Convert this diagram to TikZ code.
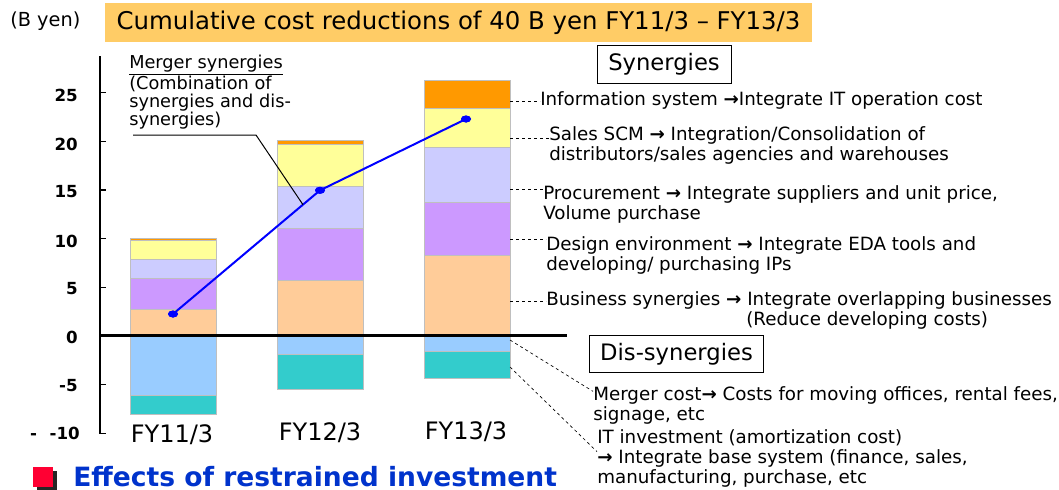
\documentclass[tikz,border=0pt]{standalone}
\usepackage{fontspec}
\setmainfont{DejaVu Sans}
\usetikzlibrary{calc,shapes.geometric}
\definecolor{cOrange}{HTML}{FF9900}
\definecolor{cYellow}{HTML}{FFFF99}
\definecolor{cLav}{HTML}{CCCCFF}
\definecolor{cPurple}{HTML}{CC99FF}
\definecolor{cPeach}{HTML}{FFCC99}
\definecolor{cSky}{HTML}{99CCFF}
\definecolor{cTeal}{HTML}{33CCCC}
\definecolor{titleor}{HTML}{FFCC66}
\definecolor{effblue}{HTML}{0033CC}
\definecolor{effred}{HTML}{FF0033}
\newcommand{\rarr}{{\bfseries →}}
\begin{document}
\begin{tikzpicture}[x=0.75pt,y=-0.75pt,
  seg/.style={draw=black!25, line width=0.5pt},
  lbl/.style={inner sep=0pt, align=left, font=\fontsize{13.7}{15}\selectfont},
  ticklbl/.style={inner sep=0pt, anchor=east, font=\bfseries\fontsize{12.5}{14}\selectfont},
  leader/.style={dash pattern=on 2.25pt off 2.25pt, line width=0.6pt},
  catbox/.style={draw, line width=0.75pt, inner sep=0pt, font=\fontsize{17}{19}\selectfont},
  fylbl/.style={inner sep=0pt, font=\fontsize{18}{20}\selectfont},
  dot/.style={ellipse, fill=blue, inner sep=0pt, minimum width=7.5pt, minimum height=5.25pt}
]
\useasboundingbox (0,0) rectangle (1059,489);

% title
\node[fill=titleor, inner sep=0pt, minimum width=530pt, minimum height=29.25pt,
      font=\fontsize{18.3}{20}\selectfont] (title) at (458.5,22.5)
      {Cumulative cost reductions of 40 B yen FY11/3 -- FY13/3};
\node[anchor=west, inner sep=0pt, font=\fontsize{14.5}{16}\selectfont] (unit) at (10,21) {(B yen)};

% axis
\draw[line width=1pt] (100,56) -- (100,433.4) -- (106,433.4);
\foreach \v/\yy in {25/92.5,20/141.2,15/190,10/238.6,5/287.3,0/336,-5/384.7}{
  \draw[line width=0.8pt] (100,\yy) -- (106,\yy);
}
\node[ticklbl] (t25) at (78,95) {25};
\node[ticklbl] (t20) at (78,144) {20};
\node[ticklbl] (t15) at (78,192) {15};
\node[ticklbl] (t10) at (78,241) {10};
\node[ticklbl] (t5) at (78,289) {5};
\node[ticklbl] (t0) at (78,337) {0};
\node[ticklbl] (tm5) at (78,386) {-5};
\node[ticklbl] (tm10) at (80,433) {-\hspace{0.75em}-10};

% bars FY11/3
\draw[seg,fill=cOrange] (130,238) rectangle (216,240);
\draw[seg,fill=cYellow] (130,240) rectangle (216,259);
\draw[seg,fill=cLav]    (130,259) rectangle (216,278);
\draw[seg,fill=cPurple] (130,278) rectangle (216,309);
\draw[seg,fill=cPeach]  (130,309) rectangle (216,336);
\draw[seg,fill=cSky]    (130,336) rectangle (216,395);
\draw[seg,fill=cTeal]   (130,395) rectangle (216,414.5);
% bars FY12/3
\draw[seg,fill=cOrange] (277,140.5) rectangle (363,144.5);
\draw[seg,fill=cYellow] (277,144.5) rectangle (363,186.5);
\draw[seg,fill=cLav]    (277,186.5) rectangle (363,228.5);
\draw[seg,fill=cPurple] (277,228.5) rectangle (363,280.5);
\draw[seg,fill=cPeach]  (277,280.5) rectangle (363,336);
\draw[seg,fill=cSky]    (277,336) rectangle (363,354.5);
\draw[seg,fill=cTeal]   (277,354.5) rectangle (363,389);
% bars FY13/3
\draw[seg,fill=cOrange] (424,80) rectangle (510,108);
\draw[seg,fill=cYellow] (424,108) rectangle (510,147);
\draw[seg,fill=cLav]    (424,147) rectangle (510,202.5);
\draw[seg,fill=cPurple] (424,202.5) rectangle (510,255);
\draw[seg,fill=cPeach]  (424,255) rectangle (510,336);
\draw[seg,fill=cSky]    (424,336) rectangle (510,351.5);
\draw[seg,fill=cTeal]   (424,351.5) rectangle (510,378);

% zero line
\draw[line width=2.2pt] (101,335.5) -- (567,335.5);

% FY labels
\node[fylbl] (fy11) at (172,435) {FY11/3};
\node[fylbl] (fy12) at (320,433) {FY12/3};
\node[fylbl] (fy13) at (466,432) {FY13/3};

% merger synergies line
\node[dot] (p1) at (173,314) {};
\node[dot] (p2) at (320,190.3) {};
\node[dot] (p3) at (466,119) {};
\draw[blue, line width=1.5pt] (p1.center) -- (p2.center) -- (p3.center);
\node[dot] at (p1) {};
\node[dot] at (p2) {};
\node[dot] at (p3) {};

\node[lbl, anchor=north west, font=\fontsize{13.3}{13.5}\selectfont] (msyn) at (129,55)
  {\underline{Merger synergies}\\(Combination of\\synergies and dis-\\synergies)};
\coordinate (m1) at (133,135);
\coordinate (m2) at (256,135);
\coordinate (onl) at ($(p1.center)!0.884!(p2.center)$);
\draw[line width=0.75pt] (m1) -- (m2) -- (onl);

% category boxes
\node[catbox, minimum width=100.5pt, minimum height=28.5pt] (syn) at (664,64) {Synergies};
\node[catbox, minimum width=130pt, minimum height=27.5pt] (dis) at (676.5,354) {Dis-synergies};

% synergy labels
\node[lbl, anchor=west] (info) at (540,100) {Information system \rarr Integrate IT operation cost};
\node[lbl, anchor=north west] (sales) at (549,126) {Sales SCM \rarr{} Integration/Consolidation of\\distributors/sales agencies and warehouses};
\node[lbl, anchor=north west] (proc) at (543,185) {Procurement \rarr{} Integrate suppliers and unit price,\\Volume purchase};
\node[lbl, anchor=north west] (design) at (546,236) {Design environment \rarr{} Integrate EDA tools and\\developing/ purchasing IPs};
\node[lbl, anchor=north west] (bus) at (546,291) {Business synergies \rarr{} Integrate overlapping businesses\\\hspace*{150pt}(Reduce developing costs)};

\coordinate (l1) at (510,101);
\coordinate (l2) at (510,138);
\coordinate (l3) at (510,189);
\coordinate (l4) at (510,239);
\coordinate (l5) at (510,301);
\draw[leader] (l1) -- (l1 -| info.west);
\draw[leader] (l2) -- (l2 -| sales.west);
\draw[leader] (l3) -- (l3 -| proc.west);
\draw[leader] (l4) -- (l4 -| design.west);
\draw[leader] (l5) -- (l5 -| bus.west);

% dis-synergy labels
\node[lbl, anchor=north west] (merger) at (593,386) {Merger cost\rarr{} Costs for moving offices, rental fees,\\signage, etc};
\node[lbl, anchor=north west] (itinv) at (597,429) {IT investment (amortization cost)\\\rarr{} Integrate base system (finance, sales,\\manufacturing, purchase, etc};
\coordinate (d1) at (510,340);
\coordinate (d2) at (510,367);
\draw[leader, line width=0.5pt] (d1) -- ([yshift=-4pt]merger.north west);
\draw[leader, line width=0.5pt] (d2) -- ([yshift=-17pt]itinv.north west);

% bottom heading
\fill[black!85] (37,471) rectangle (57,491);
\fill[effred] (33,467) rectangle (53,487);
\node[anchor=west, inner sep=0pt, text=effblue, font=\bfseries\fontsize{19.9}{22}\selectfont] (eff) at (73,477) {Effects of restrained investment};
\end{tikzpicture}
\end{document}
